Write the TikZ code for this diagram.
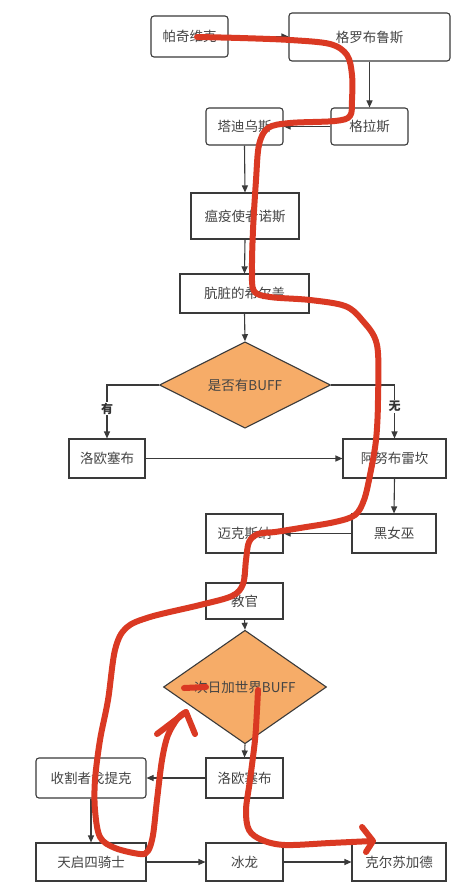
\documentclass[tikz,border=0pt]{standalone}
\usepackage{fontspec}
\setmainfont{Noto Sans CJK SC}
\usetikzlibrary{arrows.meta,shapes.geometric}
\definecolor{linec}{HTML}{3A3A3A}
\definecolor{textc}{HTML}{444444}
\definecolor{diafill}{HTML}{F6AC68}
\definecolor{pen}{RGB}{218,57,35}
\tikzset{
  box/.style={draw=linec, line width=1.1pt, fill=white, inner sep=0pt, text=textc,
    font=\fontsize{13.5}{16}\selectfont},
  rbox/.style={box, rounded corners=3pt},
  dia/.style={diamond, draw=linec, line width=1.1pt, fill=diafill, inner sep=0pt, text=textc,
    font=\fontsize{13.5}{16}\selectfont},
  conn/.style={draw=linec, line width=1.1pt, -{Triangle[length=7pt,width=6pt]}},
  lab/.style={fill=white, inner sep=1pt, text=black!80, font=\fontsize{12}{14}\selectfont\bfseries},
  redpen/.style={draw=pen, line width=6pt, line cap=round, line join=round}
}
\begin{document}
\begin{tikzpicture}[x=1pt,y=-1pt]
\useasboundingbox[fill=white] (0,0) rectangle (472,888);
% nodes
\node[rbox, minimum width=77pt, minimum height=41pt] (pq) at (189.5,36.5) {帕奇维克};
\node[rbox, minimum width=161pt, minimum height=48pt] (glb) at (369.5,37) {格罗布鲁斯};
\node[rbox, minimum width=77pt, minimum height=37pt] (gls) at (369.5,126.5) {格拉斯};
\node[rbox, minimum width=77pt, minimum height=37pt] (td) at (244.5,126.5) {塔迪乌斯};
\node[box, minimum width=108pt, minimum height=46pt] (wy) at (245,216) {瘟疫使者诺斯};
\node[box, minimum width=129pt, minimum height=39pt] (az) at (244.5,293.5) {肮脏的希尔盖};
\node[dia, minimum width=171pt, minimum height=66pt] (d1) at (245,385) {是否有BUFF};
\node[box, minimum width=76pt, minimum height=39pt] (lo1) at (107,458.5) {洛欧塞布};
\node[box, minimum width=103pt, minimum height=39pt] (anu) at (394.5,458.5) {阿努布雷坎};
\node[box, minimum width=84pt, minimum height=39pt] (hnw) at (394,533.5) {黑女巫};
\node[box, minimum width=77pt, minimum height=39pt] (mk) at (244.5,533.5) {迈克斯纳};
\node[box, minimum width=77pt, minimum height=36pt] (jg) at (244.5,601) {教官};
\node[dia, minimum width=163pt, minimum height=68pt] (d2) at (245,687) {次日加世界BUFF};
\node[box, minimum width=77pt, minimum height=40pt] (lo2) at (244.5,778) {洛欧塞布};
\node[rbox, minimum width=110pt, minimum height=40pt] (sg) at (91,778) {收割者戈提克};
\node[box, minimum width=110pt, minimum height=38pt] (tq) at (91,862) {天启四骑士};
\node[box, minimum width=77pt, minimum height=38pt] (bl) at (244.5,862) {冰龙};
\node[box, minimum width=94pt, minimum height=38pt] (ke) at (399,862) {克尔苏加德};
% connectors
\draw[conn] (pq.east) -- (glb.west |- pq.east);
\draw[conn] (gls.north |- glb.south) -- (gls.north);
\draw[conn] (gls.west) -- (td.east);
\draw[conn] (td.south) -- (wy.north);
\draw[conn] (wy.south) -- (az.north);
\draw[conn] (az.south) -- (d1.north);
\draw[conn] (d1.west) -| (lo1.north) node[lab, pos=0.72] {有};
\draw[conn] (d1.east) -| (anu.north) node[lab, pos=0.70] {无};
\draw[conn] (lo1.east) -- (anu.west);
\draw[conn] (anu.south) -- (hnw.north);
\draw[conn] (hnw.west) -- (mk.east);
\draw[conn] (mk.south) -- (jg.north);
\draw[conn] (jg.south) -- (d2.north);
\draw[conn] (d2.south) -- (lo2.north);
\draw[conn] (lo2.west) -- (sg.east);
\draw[conn] (sg.south) -- (tq.north);
\draw[conn] (tq.east) -- (bl.west);
\draw[conn] (bl.east) -- (ke.west);
% red hand-drawn route
\draw[redpen] plot[smooth, tension=0.55] coordinates {
 (197,37) (240,38) (290,40) (330,44) (347,55) (352,75) (352,100) (350,116)
 (335,121) (290,123) (268,128) (259,145) (256,180) (253,230) (252,270) (254,291)
 (270,297) (310,300) (345,306) (362,320) (377,345) (378,400) (376,440) (370,475)
 (364,500) (355,515) (335,522) (300,528) (275,532) (258,534) (249,542) (246,560)
 (243,584) (232,596) (200,605) (150,617) (126,628) (115,650) (108,700) (100,740)
 (95,780) (95,810) (100,837) (115,848) (140,854) (148,851) (153,835) (157,800)
 (162,760) (168,735) (178,718) (186,712)};
\draw[redpen] (157,734) -- (186,712) -- (195,734);
\draw[redpen] (184,688) -- (206,687);
\draw[redpen] plot[smooth, tension=0.55] coordinates {
 (258,690) (257,710) (255,740) (250,780) (246,810) (249,830) (262,840) (285,845)
 (330,843) (372,841)};
\draw[redpen] (362,827) -- (373,841) -- (366,852);
\end{tikzpicture}
\end{document}
